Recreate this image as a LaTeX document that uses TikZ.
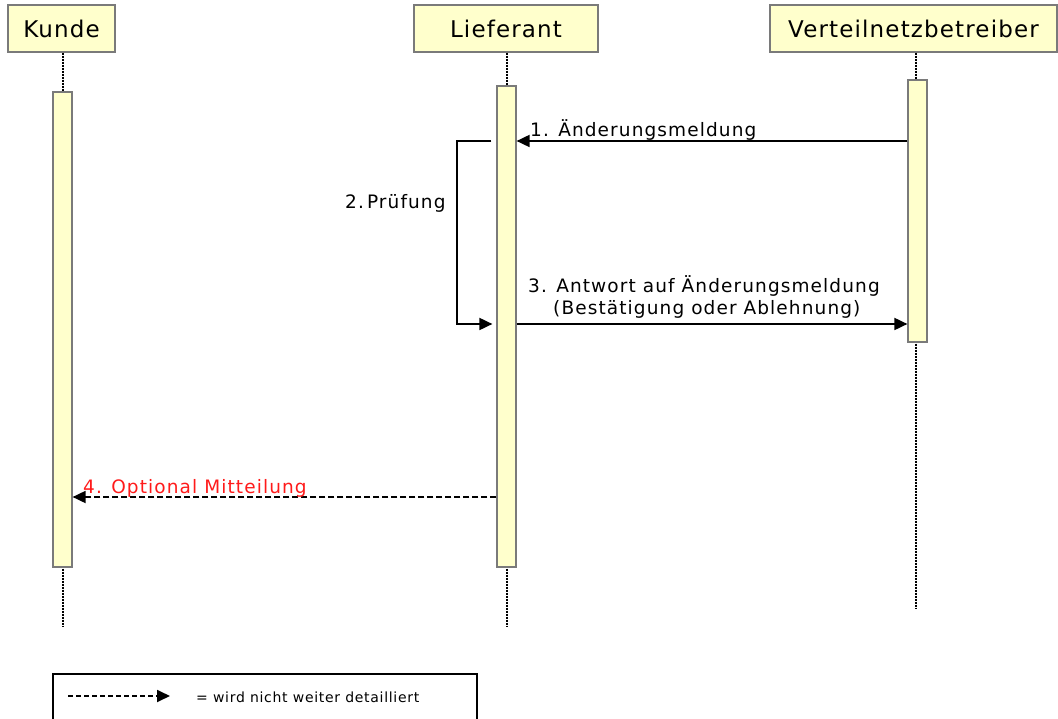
\documentclass[tikz,border=0pt]{standalone}
\usepackage{fontspec}
\setmainfont{DejaVu Sans}
\newfontfamily\hdrfont[LetterSpace=5]{DejaVu Sans}
\newfontfamily\msgfont[LetterSpace=6]{DejaVu Sans}
\newfontfamily\legfont[LetterSpace=5]{DejaVu Sans}
\usetikzlibrary{arrows.meta,calc}
\definecolor{boxfill}{HTML}{FFFFCC}
\definecolor{boxline}{HTML}{7A7A7A}
\definecolor{msgred}{HTML}{FF1A1A}
\begin{document}
\begin{tikzpicture}[x=1pt,y=-1pt,
 hdr/.style={draw=boxline, line width=1.3pt, fill=boxfill, inner sep=0pt, minimum height=47pt, font=\hdrfont\fontsize{23}{27}\selectfont},
 bar/.style={draw=boxline, line width=1.2pt, fill=boxfill, minimum width=19pt, inner sep=0pt},
 life/.style={line width=2.2pt, dash pattern=on 2pt off 1pt},
 msg/.style={line width=1.8pt, -{Triangle[length=13pt,width=12pt]}},
 dmsg/.style={msg, dash pattern=on 6pt off 3pt},
 lbl/.style={font=\msgfont\fontsize{18.5}{21}\selectfont, inner sep=0pt},
]
\useasboundingbox (0,0) rectangle (1058,719);
% headers
\node[hdr, minimum width=107pt] (kunde) at (61.5,28.5) {Kunde};
\node[hdr, minimum width=184pt] (lief) at (506,28.5) {Lieferant};
\node[hdr, minimum width=287pt] (vnb) at (913.5,28.5) {Verteilnetzbetreiber};
% lifelines
\coordinate (kend) at (63,627);
\coordinate (lend) at (507,627);
\coordinate (vend) at (916,608);
\draw[life] (kunde.south -| kend) -- (kend);
\draw[life] (lief.south -| lend) -- (lend);
\draw[life] (vnb.south -| vend) -- (vend);
% activation bars
\node[bar, minimum height=475pt] (kbar) at (62.5,329.5) {};
\node[bar, minimum height=481pt] (lbar) at (506.5,326.5) {};
\node[bar, minimum height=262pt] (vbar) at (917.5,211) {};
% message rows
\coordinate (m1) at (0,141);
\coordinate (m3) at (0,324);
\coordinate (m4) at (0,497);
\coordinate (loopx) at (457,232);
% 1
\draw[msg] (vbar.west |- m1) -- (lbar.east |- m1);
\node[lbl, anchor=base west] (t1) at (530,137) {1. Änderungsmeldung};
% 2 self loop
\draw[msg] ($(lbar.west |- m1)+(-5,0)$) -| (loopx) |- ($(lbar.west |- m3)+(-4,0)$);
\node[lbl, anchor=base west] (t2) at (345,209) {2.\,Prüfung};
% 3
\draw[msg] (lbar.east |- m3) -- (vbar.west |- m3);
\node[lbl, anchor=base west] (t3a) at (528,293) {3. Antwort auf Änderungsmeldung};
\node[lbl, anchor=base west] (t3b) at (553,315) {(Bestätigung oder Ablehnung)};
% 4
\draw[dmsg] (lbar.west |- m4) -- (kbar.east |- m4);
\node[lbl, anchor=base west, text=msgred] (t4) at (83,493) {4. Optional Mitteilung};
% legend
\node[draw, line width=1.5pt, minimum width=424pt, minimum height=60pt, inner sep=0pt] (legend) at (265,704) {};
\coordinate (la) at (68,696);
\coordinate (lb) at (170,696);
\draw[line width=1.8pt, dash pattern=on 5pt off 3pt, -{Triangle[length=13pt,width=12pt]}] (la) -- (lb);
\node[anchor=base west, inner sep=0pt, font=\legfont\fontsize{14}{16}\selectfont] (lt) at (196,702) {= wird nicht weiter detailliert};
\end{tikzpicture}
\end{document}
